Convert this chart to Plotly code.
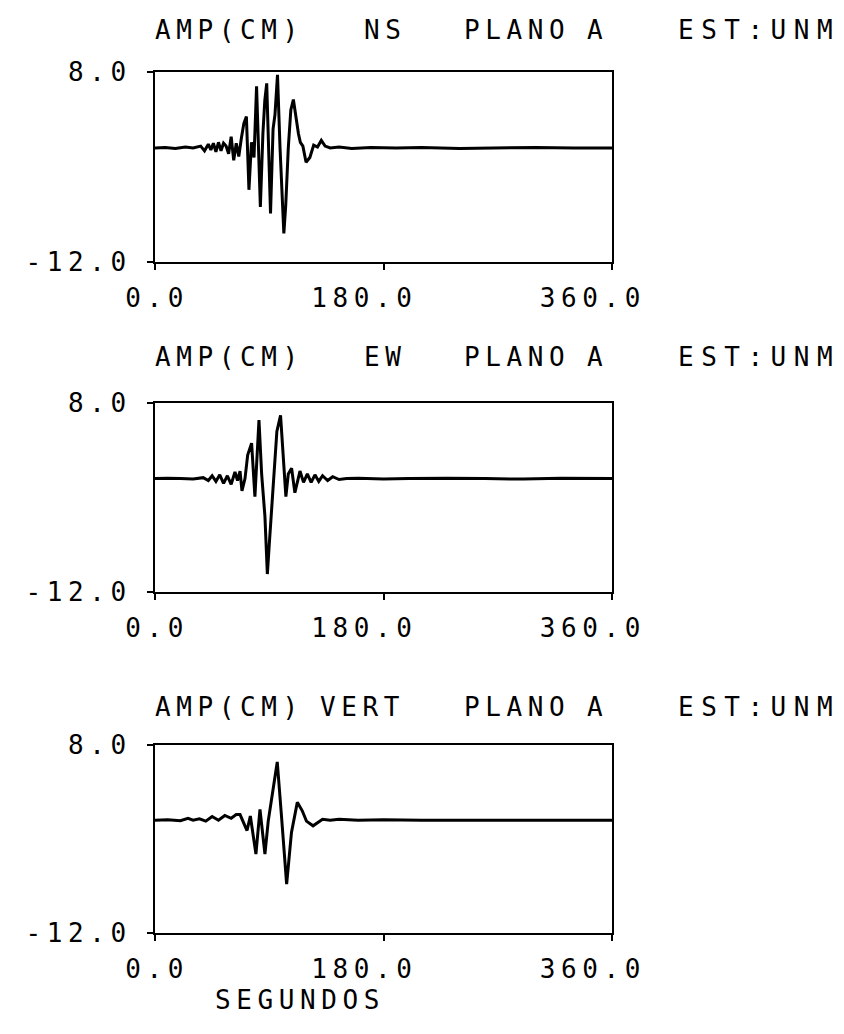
import plotly.graph_objects as go

# Displacement records, station UNM (time in seconds, amplitude in cm)
t_ns = [0, 8, 16, 24, 30, 36, 39, 42, 44, 46, 48, 50, 52, 54, 56, 58, 60, 62, 64, 66,
        68, 70, 72, 74, 76, 78, 80, 83, 85, 86.5, 88, 91, 93, 94.5, 96.5, 98.5, 101.5,
        103, 105, 107, 109, 111, 113, 114.5, 116.5, 119, 122, 125, 128, 131, 134, 138,
        145, 155, 170, 190, 210, 240, 270, 300, 330, 360]
amp_ns = [0, 0.05, -0.05, 0.1, 0, 0.2, -0.3, 0.4, -0.2, 0.5, -0.4, 0.6, -0.3, 0.5, 0.2, -0.6,
          1.2, -1.3, 0.5, -0.9, 1.0, 2.6, 3.3, -4.4, 0.6, -1.0, 6.5, -6.2, 1.5, 5.0, 6.8,
          -6.9, 2.0, 3.5, 7.7, 0.0, -9.0, -6.0, 0.0, 4.0, 5.1, 3.0, 1.5, 0.6, 0.2, -1.5,
          -1.0, 0.3, 0.1, 0.8, 0.2, 0.0, 0.1, -0.05, 0.05, 0, 0.05, -0.05, 0, 0.05, 0, 0]

t_ew = [0, 10, 20, 30, 38, 42, 45, 48, 51, 54, 57, 60, 63, 65, 67, 68.5, 70.9, 73, 76.1,
        78.7, 81.9, 84, 86.6, 88.5, 90, 92, 94, 96, 98.9, 101, 103.1, 105, 107.6, 110.2,
        114.2, 117, 120, 123, 126, 129, 132, 136, 140, 145, 151, 160, 180, 200, 230, 260,
        290, 320, 350, 360]
amp_ew = [0, 0.05, 0, -0.05, 0.1, -0.2, 0.3, -0.3, 0.4, -0.5, 0.3, -0.6, 0.7, -0.2, 0.8,
          -1.3, 0.0, 2.5, 3.75, -1.9, 6.2, 0.5, -4.0, -10.1, -7.0, -3.0, 2.0, 5.0, 6.7,
          2.0, -1.9, 0.5, 1.1, -1.5, 0.8, -0.4, 0.5, -0.4, 0.4, -0.3, 0.3, -0.2, 0.2, -0.1,
          0.0, 0.05, -0.05, 0, 0.05, 0, -0.05, 0.05, 0, 0]

t_vert = [0, 10, 20, 26, 30, 35, 40, 45, 50, 55, 60, 64, 67, 70, 72.5, 75.1, 79.5, 82.7,
          86.6, 89.2, 91.8, 96.3, 99.6, 103.7, 107.5, 112.1, 116, 119.3, 124.5, 128, 132,
          138, 145, 160, 180, 210, 250, 300, 360]
amp_vert = [0, 0.05, -0.05, 0.2, 0.0, 0.15, -0.1, 0.4, 0.0, 0.5, 0.2, 0.6, 0.6, -0.3, -1.1,
            0.45, -3.6, 1.15, -3.6, -0.1, 2.2, 6.2, 0.5, -6.8, -1.3, 1.9, 1.0, -0.1, -0.6,
            -0.3, 0.1, 0.0, 0.1, 0, 0.05, 0, 0, 0.05, 0]

x_ticks = [0, 180, 360]
x_tick_text = ["0.0", "180.0", "360.0"]
y_ticks = [-12, 8]
y_tick_text = ["-12.0", "8.0"]

components = ["NS", "EW", "VERT"]
x_title = "SEGUNDOS"

series = [(t_ns, amp_ns), (t_ew, amp_ew), (t_vert, amp_vert)]

W, H = 844, 1034
FONT = "DejaVu Sans Mono"
FSIZE = 26
SPACING = 5.6  # extra pen advance per character, px


def pen(s, spacing=SPACING):
    """Wide-pitch plotter lettering."""
    return f'<span style="letter-spacing:{spacing}px">{s}</span>'


# pixel boxes of the three panels: (top, bottom)
boxes = [(72, 262), (403, 592), (745, 933)]
x_left, x_right = 155, 612
title_y = [30, 357, 707]
comp_x = [362, 362, 318]

fig = go.Figure()


def label(text, px, py, spacing=SPACING):
    fig.add_annotation(
        text=pen(text, spacing), x=px / W, y=1 - py / H,
        xref="paper", yref="paper", xanchor="left", yanchor="middle",
        showarrow=False, font=dict(family=FONT, size=FSIZE, color="black"),
    )


for i, ((tt, aa), (top, bot)) in enumerate(zip(series, boxes)):
    k = "" if i == 0 else str(i + 1)
    fig.add_trace(go.Scatter(
        x=tt, y=aa, mode="lines",
        line=dict(color="black", width=3),
        xaxis="x" + k, yaxis="y" + k, showlegend=False,
    ))
    common = dict(showline=True, mirror=True, linecolor="black", linewidth=2,
                  showgrid=False, zeroline=False, ticks="outside", tickcolor="black",
                  tickwidth=2, automargin=False,
                  tickfont=dict(family=FONT, size=FSIZE, color="black"))
    fig.layout["xaxis" + k] = dict(
        common, domain=[x_left / W, x_right / W], range=[0, 360],
        tickvals=x_ticks, ticktext=[pen(s) for s in x_tick_text], ticklen=6,
        ticklabelposition="outside left", ticklabelshift=36,
        ticklabelstandoff=12, anchor="y" + k,
    )
    fig.layout["yaxis" + k] = dict(
        common, domain=[1 - bot / H, 1 - top / H], range=[-12, 8],
        tickvals=y_ticks, ticktext=[pen(s) for s in y_tick_text], ticklen=6,
        ticklabelstandoff=10, anchor="x" + k,
    )

    # panel heading
    ty = title_y[i]
    label("AMP(CM)", 153, ty)
    label(components[i], comp_x[i], ty)
    label("PLANO", 462, ty)
    label("A", 585, ty)
    label("EST:UNM", 676, ty, spacing=7.5)

label(x_title, 213, 1000)

fig.update_layout(
    width=W, height=H, margin=dict(l=0, r=0, t=0, b=0),
    paper_bgcolor="white", plot_bgcolor="white",
)

fig.write_html("out.html")
